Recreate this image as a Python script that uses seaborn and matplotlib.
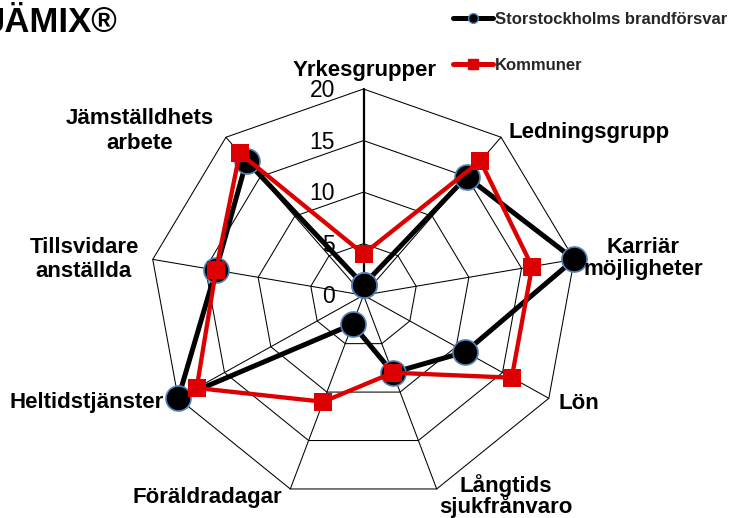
import numpy as np
import pandas as pd
import matplotlib
matplotlib.use("Agg")
import matplotlib.pyplot as plt
import seaborn as sns
from matplotlib.lines import Line2D
from matplotlib.transforms import offset_copy

# ---------------- data ----------------
categories = ["Yrkesgrupper", "Ledningsgrupp", "Karriär möjligheter", "Lön",
              "Långtids sjukfrånvaro", "Föräldradagar", "Heltidstjänster",
              "Tillsvidare anställda", "Jämställdhets arbete"]
sbf_values = [1, 15, 20, 11, 8, 3, 20, 14, 17]
kommun_values = [4, 17, 16, 16, 8, 11, 18, 14, 18]
series_names = ["Storstockholms brandförsvar", "Kommuner"]
ticks = [0, 5, 10, 15, 20]
title = "JÄMIX®"

# ---------------- style ----------------
sns.set_style("white")
plt.rcParams["font.family"] = ["Liberation Sans", "DejaVu Sans"]

W, H = 732, 518
fig = plt.figure(figsize=(W / 100, H / 100), dpi=100)

def fx(px):
    return px / W

def fy(py):
    return 1 - py / H

# polar axes box (slightly wider than tall as in the reference)
cx, cy, rx, ry = 363.5, 295.2, 214.0, 206.2
ax = fig.add_axes([fx(cx - rx), fy(cy + ry), 2 * rx / W, 2 * ry / H],
                  projection="polar")
ax.set_aspect("auto")
ax.set_theta_zero_location("N")
ax.set_theta_direction(-1)
ax.set_ylim(0, 20)
ax.grid(False)
ax.set_xticks([])
ax.set_yticks([])
ax.spines["polar"].set_visible(False)
ax.patch.set_alpha(0)

n = len(categories)
theta = np.linspace(0, 2 * np.pi, n, endpoint=False)
theta_closed = np.append(theta, 2 * np.pi)

# polygon grid
for r in ticks[1:]:
    ax.plot(theta_closed, [r] * (n + 1), color="black", lw=0.75, zorder=1,
            clip_on=False)
for i, t in enumerate(theta):
    ax.plot([t, t], [0, ticks[-1]], color="black",
            lw=1.6 if i == 0 else 0.75, zorder=1, clip_on=False)

# tick labels along the first spoke
tick_tr = offset_copy(ax.transData, fig=fig, x=-28.5, y=-8, units="dots")
for v in ticks:
    ax.text(0, v, str(v), transform=tick_tr, ha="right", va="baseline",
            fontsize=16.5, color="black", zorder=5)

# series
df = pd.DataFrame({
    "theta": np.concatenate([theta_closed, theta_closed]),
    "value": sbf_values + [sbf_values[0]] + kommun_values + [kommun_values[0]],
    "series": [series_names[0]] * (n + 1) + [series_names[1]] * (n + 1),
})
black_df = df[df["series"] == series_names[0]]
red_df = df[df["series"] == series_names[1]]

sns.lineplot(data=black_df, x="theta", y="value", sort=False, ax=ax,
             color="black", lw=3.6, marker="o", markersize=18,
             markerfacecolor="black", markeredgecolor="#4F81BD",
             markeredgewidth=1.2, zorder=3, legend=False, clip_on=False)
sns.lineplot(data=red_df, x="theta", y="value", sort=False, ax=ax,
             color="#DC0000", lw=3.1, marker="s", markersize=13,
             markerfacecolor="#DC0000", markeredgecolor="#DC0000",
             markeredgewidth=0, zorder=4, legend=False, clip_on=False)
ax.set_xlabel("")
ax.set_ylabel("")
ax.set_ylim(0, 20)

# category labels (pixel layout)
label_layout = [
    (["Yrkesgrupper"], 364.5, [76], "center"),
    (["Ledningsgrupp"], 508, [138], "left"),
    (["Karriär", "möjligheter"], 643, [253, 275], "center"),
    (["Lön"], 558, [409], "left"),
    (["Långtids", "sjukfrånvaro"], 506, [492, 513], "center"),
    (["Föräldradagar"], 207, [503], "center"),
    (["Heltidstjänster"], 164, [408], "right"),
    (["Tillsvidare", "anställda"], 84, [253, 277], "center"),
    (["Jämställdhets", "arbete"], 140, [124, 149], "center"),
]
for lines, x, ys, ha in label_layout:
    for line, y in zip(lines, ys):
        fig.text(fx(x), fy(y), line, ha=ha, va="baseline", fontsize=16,
                 fontweight="bold", color="black")

# title (left edge runs off the canvas, as in the reference)
fig.text(fx(-15), fy(32), title, ha="left", va="baseline", fontsize=25,
         fontweight="bold", color="black")

# legend
handles = [
    Line2D([], [], color="black", lw=3.6, marker="o", markersize=7,
           markerfacecolor="black", markeredgecolor="#4F81BD",
           markeredgewidth=1.0),
    Line2D([], [], color="#DC0000", lw=3.6, marker="s", markersize=7,
           markerfacecolor="#DC0000", markeredgecolor="#DC0000"),
]
fig.legend(handles, series_names, loc="upper left",
           bbox_to_anchor=(fx(453), fy(12)), frameon=False,
           prop={"size": 12, "weight": "bold"}, handlelength=2.4,
           handletextpad=0.12, labelspacing=1.85, borderpad=0,
           borderaxespad=0)

fig.savefig("out.png", dpi=100, facecolor="white")
